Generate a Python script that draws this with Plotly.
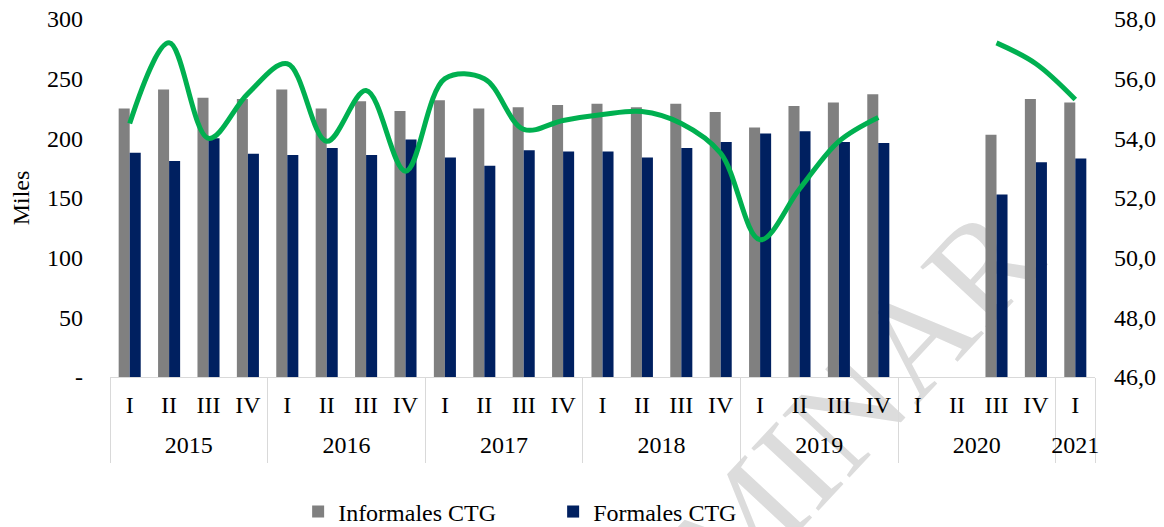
import plotly.graph_objects as go

years = ["2015"] * 4 + ["2016"] * 4 + ["2017"] * 4 + ["2018"] * 4 + ["2019"] * 4 + ["2020"] * 4 + ["2021"]
quarters = ["I", "II", "III", "IV"] * 6 + ["I"]

informales = [225, 241, 234, 233, 241, 225, 231, 223, 232, 225, 226, 228,
              229, 226, 229, 222, 209, 227, 230, 237, None, None, 203, 233, 230]
formales = [188, 181, 200, 187, 186, 192, 186, 199, 184, 177, 190, 189,
            189, 184, 192, 197, 204, 206, 197, 196, None, None, 153, 180, 183]
tasa = [54.5, 57.2, 54.0, 55.5, 56.5, 53.9, 55.6, 52.9, 56.0, 56.0, 54.3, 54.6,
        54.8, 54.9, 54.5, 53.5, 50.6, 52.3, 53.9, 54.7, None, None, 57.2, 56.5, 55.3]

left_ticks = [0, 50, 100, 150, 200, 250, 300]
left_text = ["-", "50", "100", "150", "200", "250", "300"]
right_ticks = [46, 48, 50, 52, 54, 56, 58]
right_text = ["46,0", "48,0", "50,0", "52,0", "54,0", "56,0", "58,0"]

FONT = "Liberation Serif"

# category positions derived from the data order
idx = list(range(len(quarters)))
year_names = list(dict.fromkeys(years))
groups = {y: [i for i, yy in enumerate(years) if yy == y] for y in year_names}
year_centers = [sum(groups[y]) / len(groups[y]) for y in year_names]
dividers = [groups[y][0] - 0.5 for y in year_names] + [groups[year_names[-1]][-1] + 0.5]
xrange = [idx[0] - 0.5, idx[-1] + 0.5]

fig = go.Figure()
fig.add_trace(go.Bar(x=idx, y=informales, name="Informales CTG", marker_color="#808080",
                     marker_line_width=0))
fig.add_trace(go.Bar(x=idx, y=formales, name="Formales CTG", marker_color="#002060",
                     marker_line_width=0))
fig.add_trace(go.Scatter(x=idx, y=tasa, name="Tasa", xaxis="x2", yaxis="y2", mode="lines",
                         line=dict(color="#00B050", width=5, shape="spline", smoothing=1.0),
                         connectgaps=False, showlegend=False))

fig.update_layout(
    width=1156, height=519,
    margin=dict(l=102, r=69, t=11, b=150, autoexpand=False),
    paper_bgcolor="white", plot_bgcolor="rgba(0,0,0,0)",
    font=dict(family=FONT, size=24, color="black"),
    barmode="group", bargap=0.44, bargroupgap=0.0,
    showlegend=True,
    legend=dict(orientation="h", x=0.191, xanchor="left", y=-0.377, yanchor="middle",
                font=dict(family=FONT, size=24, color="black"), bgcolor="rgba(0,0,0,0)",
                entrywidth=210, entrywidthmode="pixels"),
    xaxis=dict(range=xrange, tickmode="array", tickvals=idx, ticktext=quarters,
               showgrid=False, zeroline=False, showline=True, linecolor="#d9d9d9",
               linewidth=1, ticks="", tickfont=dict(family=FONT, size=24),
               automargin=False, ticklabelstandoff=6, ticklabeloverflow="allow"),
    xaxis2=dict(range=xrange, overlaying="x", anchor="y", side="bottom",
                tickmode="array", tickvals=year_centers, ticktext=year_names,
                showgrid=False, zeroline=False, showline=False, ticks="",
                tickfont=dict(family=FONT, size=24), automargin=False,
                ticklabelstandoff=51, ticklabeloverflow="allow",
                minor=dict(tickmode="array", tickvals=dividers, ticks="outside",
                           ticklen=85, tickwidth=1, tickcolor="#d9d9d9", showgrid=False)),
    yaxis=dict(range=[0, 300], tickvals=left_ticks, ticktext=left_text, showgrid=False,
               zeroline=False, showline=False, ticks="", ticklabelstandoff=26,
               automargin=False, ticklabeloverflow="allow",
               tickfont=dict(family=FONT, size=24),
               title=dict(text="Miles", font=dict(family=FONT, size=24), standoff=12)),
    yaxis2=dict(range=[46, 58], tickvals=right_ticks, ticktext=right_text, overlaying="y",
                anchor="x", side="right", showgrid=False, zeroline=False, showline=False,
                ticks="", ticklabelstandoff=18, automargin=False, ticklabeloverflow="allow",
                tickfont=dict(family=FONT, size=24)),
    shapes=[dict(type="rect", xref="paper", yref="paper", x0=0.55, x1=0.67, y0=-0.505, y1=-0.375,
                 line=dict(width=0), fillcolor="rgba(0,0,0,0)", layer="below",
                 label=dict(text="PRELIMINAR", textangle=-47, textposition="middle center",
                            font=dict(family=FONT, size=140, color="#dcdcdc")))],
)

fig.write_html("out.html")
